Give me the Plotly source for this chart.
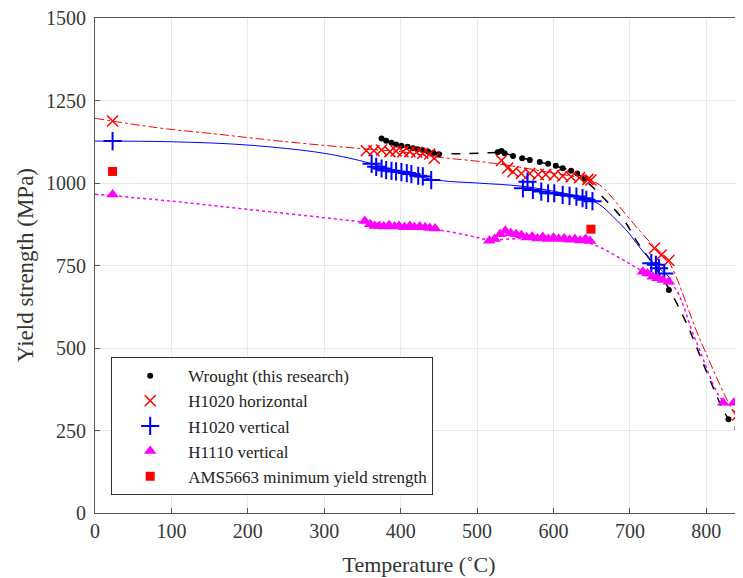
import plotly.graph_objects as go

# ---------------- data ----------------
wrought_T = [375, 381, 388, 394, 401, 409, 416, 422, 429, 436, 443, 450,
             527, 532, 536, 547, 559, 569, 582, 593, 603, 612, 623, 631, 641,
             751, 829, 841]
wrought_Y = [1135, 1128, 1122, 1117, 1113, 1110, 1105, 1102, 1099, 1095, 1091, 1087,
             1093, 1097, 1090, 1082, 1075, 1070, 1064, 1058, 1052, 1045, 1037, 1029, 1014,
             676, 284, 261]

h1020h_T = [23, 355, 365, 375, 386, 394, 403, 412, 421, 429, 438, 444,
            532, 540, 547, 558, 569, 580, 590, 601, 612, 623, 634, 645, 649,
            732, 741, 751, 841, 846]
h1020h_Y = [1188, 1098, 1098, 1100, 1095, 1097, 1095, 1095, 1093, 1090, 1088, 1075,
            1068, 1045, 1034, 1029, 1029, 1026, 1026, 1024, 1021, 1019, 1016, 1011, 1009,
            802, 782, 765, 297, 280]

h1020v_T = [23, 362, 368, 375, 381, 388, 394, 401, 408, 414, 423, 429, 440,
            560, 566, 573, 584, 593, 601, 612, 621, 630, 638, 643, 651,
            728, 734, 738, 745]
h1020v_Y = [1127, 1058, 1049, 1044, 1039, 1037, 1035, 1033, 1030, 1027, 1022, 1020, 1009,
            984, 1004, 979, 974, 969, 969, 964, 961, 959, 954, 949, 945,
            757, 752, 742, 726]

h1110v_T = [23, 353, 360, 366, 372, 378, 385, 392, 398, 405, 412, 418, 425, 432, 438, 445,
            516, 523, 530, 537, 544, 551, 558, 565, 572, 579, 586, 593, 600, 607,
            614, 621, 628, 635, 642, 648,
            717, 723, 730, 736, 743, 751, 822, 836]
h1110v_Y = [965, 885, 875, 870, 870, 868, 872, 868, 870, 866, 870, 866, 868, 866, 864, 862,
            825, 830, 845, 855, 848, 845, 842, 835, 838, 832, 836, 830, 834, 830,
            832, 828, 830, 826, 830, 824,
            731, 726, 716, 711, 706, 701, 334, 334]

ams_T = [23, 649]
ams_Y = [1035, 860]

# fitted trend curves
wrought_fit_T = [375, 400, 430, 450, 480, 510, 530, 560, 600, 630, 650, 677, 695, 708,
                 730, 751, 775, 800, 825, 850]
wrought_fit_Y = [1135, 1113, 1097, 1090, 1089, 1091, 1092, 1075, 1053, 1030, 990, 927, 878, 827,
                 755, 680, 570, 430, 300, 215]

h1020h_fit_T = [0, 80, 160, 250, 360, 400, 450, 500, 550, 600, 640, 660, 677, 690, 712,
                732, 750, 791, 834, 850]
h1020h_fit_Y = [1196, 1168, 1148, 1125, 1102, 1095, 1078, 1066, 1050, 1030, 1013, 995, 955, 918, 857,
                807, 765, 530, 312, 255]

h1020v_fit_T = [0, 100, 200, 300, 360, 400, 450, 500, 560, 600, 640, 660, 678, 699, 712,
                730, 754]
h1020v_fit_Y = [1127, 1125, 1115, 1090, 1060, 1032, 1008, 1000, 990, 975, 955, 935, 898, 847, 807,
                760, 710]

h1110v_fit_T = [0, 100, 200, 300, 350, 400, 450, 500, 515, 560, 600, 650, 685, 715,
                754, 786, 821, 836]
h1110v_fit_Y = [966, 945, 920, 895, 882, 870, 858, 835, 828, 832, 830, 815, 775, 735,
                696, 524, 342, 328]

x_ticks = [0, 100, 200, 300, 400, 500, 600, 700, 800]
y_ticks = [0, 250, 500, 750, 1000, 1250, 1500]

FONT = "Liberation Serif"

fig = go.Figure()

# trend lines
fig.add_trace(go.Scatter(x=wrought_fit_T, y=wrought_fit_Y, mode="lines", showlegend=False,
                         line=dict(color="black", width=1.5, dash="dash", shape="spline"),
                         hoverinfo="skip"))
fig.add_trace(go.Scatter(x=h1020h_fit_T, y=h1020h_fit_Y, mode="lines", showlegend=False,
                         line=dict(color="#ff0000", width=1, dash="dashdot", shape="spline"),
                         hoverinfo="skip"))
fig.add_trace(go.Scatter(x=h1020v_fit_T, y=h1020v_fit_Y, mode="lines", showlegend=False,
                         line=dict(color="#0000ff", width=1, shape="spline"),
                         hoverinfo="skip"))
fig.add_trace(go.Scatter(x=h1110v_fit_T, y=h1110v_fit_Y, mode="lines", showlegend=False,
                         line=dict(color="#ff00ff", width=1.5, dash="dot", shape="spline"),
                         hoverinfo="skip"))

# markers
fig.add_trace(go.Scatter(x=wrought_T, y=wrought_Y, mode="markers", name="Wrought (this research)",
                         marker=dict(symbol="circle", size=6, color="black")))
fig.add_trace(go.Scatter(x=h1020h_T, y=h1020h_Y, mode="markers", name="H1020 horizontal",
                         marker=dict(symbol="x-thin", size=11, color="#ff0000",
                                     line=dict(color="#ff0000", width=1.5))))
fig.add_trace(go.Scatter(x=h1020v_T, y=h1020v_Y, mode="markers", name="H1020 vertical",
                         marker=dict(symbol="cross-thin", size=13, color="#0000ff",
                                     line=dict(color="#0000ff", width=2))))
fig.add_trace(go.Scatter(x=h1110v_T, y=h1110v_Y, mode="markers", name="H1110 vertical",
                         marker=dict(symbol="triangle-up", size=11, color="#ff00ff")))
fig.add_trace(go.Scatter(x=ams_T, y=ams_Y, mode="markers", name="AMS5663 minimum yield strength",
                         marker=dict(symbol="square", size=9, color="#ff0000")))

axis_common = dict(
    showgrid=True, gridcolor="#e8e8e8", gridwidth=1,
    showline=True, linecolor="#555555", linewidth=1,
    ticks="inside", ticklen=5, tickcolor="#555555",
    tickfont=dict(family=FONT, size=20, color="#383838"),
    zeroline=False, automargin=False, ticklabeloverflow="allow",
)

# the page body adds an 8px offset, so margins compensate for it
fig.update_layout(
    width=743, height=578,
    margin=dict(l=87, r=8, t=10, b=73),
    paper_bgcolor="white", plot_bgcolor="white",
    font=dict(family=FONT, color="#333333"),
    xaxis=dict(range=[0, 848], tickvals=x_ticks, mirror=True,
               title=dict(text="Temperature (˚C)", font=dict(family=FONT, size=22, color="#333333")),
               **axis_common),
    yaxis=dict(range=[0, 1500], tickvals=y_ticks, mirror=False, ticklabelstandoff=4,
               **axis_common),
    annotations=[dict(text="Yield strength (MPa)", textangle=-90, showarrow=False,
                      xref="paper", yref="paper", x=-0.107, y=0.50,
                      xanchor="center", yanchor="middle",
                      font=dict(family=FONT, size=23, color="#333333"))],
    legend=dict(x=0.025, y=0.036, xanchor="left", yanchor="bottom",
                bgcolor="white", bordercolor="#333333", borderwidth=1,
                font=dict(family=FONT, size=17, color="#222222"),
                itemwidth=66, tracegroupgap=0),
    showlegend=True,
)

fig.write_html("out.html")
